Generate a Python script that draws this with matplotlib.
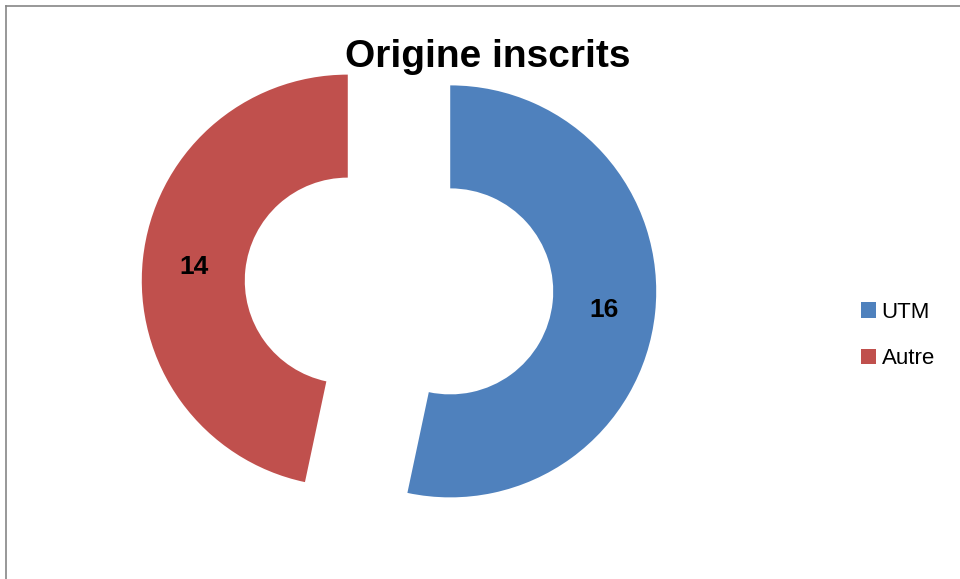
import matplotlib.pyplot as plt
from matplotlib.patches import Patch
from matplotlib.lines import Line2D

# données
categories = ['UTM', 'Autre']
valeurs = [16, 14]
couleurs = ['#4F81BD', '#C0504D']
titre = 'Origine inscrits'

plt.rcParams['font.family'] = ['Liberation Sans', 'DejaVu Sans']

fig = plt.figure(figsize=(9.6, 5.79), dpi=100)
ax = fig.add_axes([0, 0, 1, 1])

wedges, textes = ax.pie(valeurs, colors=couleurs, startangle=90, counterclock=False,
                        explode=[0.25, 0.25], radius=1,
                        wedgeprops=dict(width=0.5, linewidth=0),
                        labels=[str(v) for v in valeurs], labeldistance=0.75,
                        textprops=dict(fontsize=19, fontweight='bold', color='black',
                                       ha='center', va='center_baseline'))

# cadre : centre d'origine à (399, 286) px, rayon 206 px
r = 206.0
cx, cy = 399.0, 286.0
ax.set_xlim(-cx / r, (960 - cx) / r)
ax.set_ylim(-(579 - cy) / r, cy / r)
ax.set_aspect('auto')
ax.axis('off')

fig.text(488 / 960, 1 - 57 / 579, titre, fontsize=28, fontweight='bold',
         ha='center', va='center', zorder=10)

poignees = [Patch(facecolor=c, edgecolor='none') for c in couleurs]
fig.legend(poignees, categories, loc='center left',
           bbox_to_anchor=(861 / 960, 1 - 335.5 / 579), frameon=False,
           fontsize=16, handlelength=0.68, handleheight=0.68,
           handletextpad=0.25, labelspacing=1.15, borderpad=0, borderaxespad=0)

# bordure grise (haut et gauche)
fig.add_artist(Line2D([5.5 / 960, 5.5 / 960], [0, 1 - 6 / 579],
                      transform=fig.transFigure, color='#868686', linewidth=1.2))
fig.add_artist(Line2D([5.5 / 960, 1], [1 - 6 / 579, 1 - 6 / 579],
                      transform=fig.transFigure, color='#868686', linewidth=1.2))

fig.savefig('out.png', dpi=100)
